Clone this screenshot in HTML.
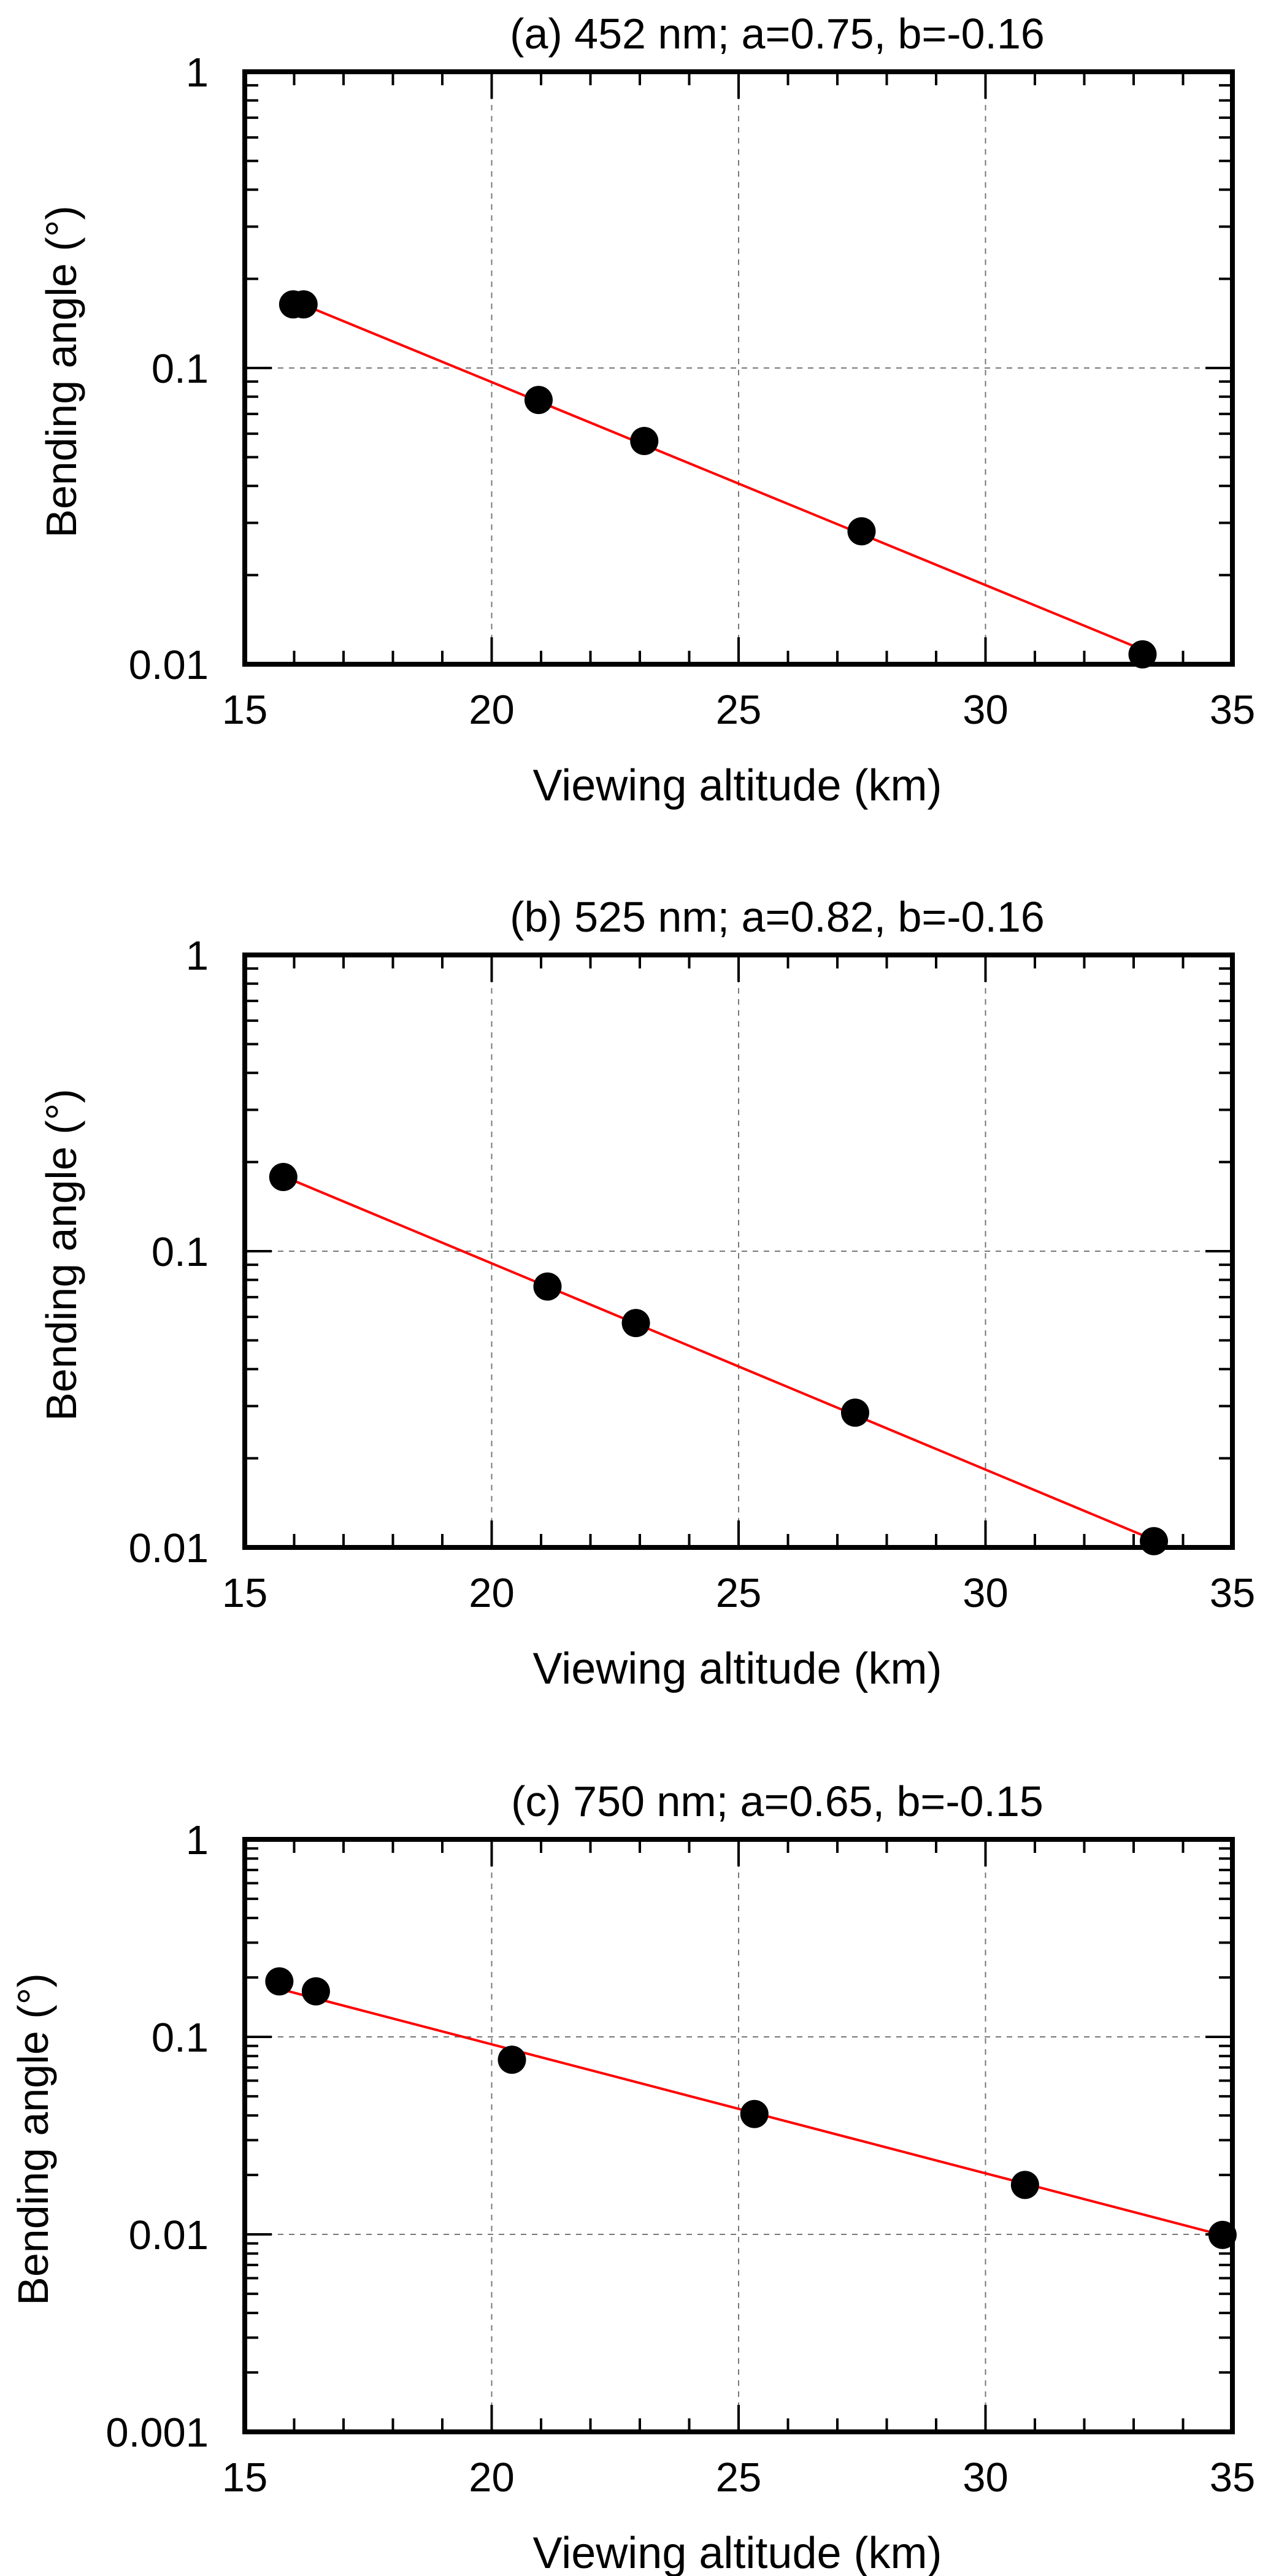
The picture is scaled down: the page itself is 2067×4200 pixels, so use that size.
<!DOCTYPE html>
<html><head><meta charset="utf-8"><style>
html,body{margin:0;padding:0;background:#fff}
svg{display:block}
text{font-family:"Liberation Sans",Arial,sans-serif;fill:#000}
</style></head>
<body>
<svg id="chart" width="2067" height="4200" viewBox="0 0 2067 4200" xmlns="http://www.w3.org/2000/svg"></svg>
<script>
// Panel (a) data
const altA = [15.98, 16.19, 20.95, 23.09, 27.49, 33.18];
const angA = [0.164, 0.164, 0.078, 0.0567, 0.0281, 0.0108];
const fitXA = [15.98, 33.18];
const fitYA = [0.169, 0.0112];
// Panel (b) data
const altB = [15.78, 21.13, 22.92, 27.36, 33.41];
const angB = [0.178, 0.076, 0.0572, 0.0285, 0.0105];
const fitXB = [15.78, 33.41];
const fitYB = [0.179, 0.0106];
// Panel (c) data
const altC = [15.70, 16.44, 20.41, 25.32, 30.80, 34.80];
const angC = [0.191, 0.170, 0.0766, 0.0407, 0.0178, 0.00994];
const fitXC = [15.70, 34.80];
const fitYC = [0.175, 0.0099];
// tick labels
const xTicks = [15, 20, 25, 30, 35];
const yTicksAB = ["0.01", "0.1", "1"];
const yTicksC = ["0.001", "0.01", "0.1", "1"];
const titles = ["(a) 452 nm; a=0.75, b=-0.16", "(b) 525 nm; a=0.82, b=-0.16", "(c) 750 nm; a=0.65, b=-0.15"];

const NS = "http://www.w3.org/2000/svg";
const svg = document.getElementById("chart");
function mk(tag, attrs, parent) {
  const e = document.createElementNS(NS, tag);
  for (const k in attrs) e.setAttribute(k, attrs[k]);
  (parent || svg).appendChild(e);
  return e;
}

function panel(idx, top, yTicks, xs, ys, fx, fy, ytitleX) {
  const L = 399, R = 2009, T = top, B = top + 966;
  const yMinExp = -(yTicks.length - 1), yMaxExp = 0;
  const xScale = v => L + (v - 15) / 20 * (R - L);
  const yScale = v => B - (Math.log10(v) - yMinExp) / (yMaxExp - yMinExp) * (B - T);
  const g = mk("g", {});
  
  

  // grid
  for (const v of [20, 25, 30]) {
    const ln = mk("line", {x1: xScale(v), x2: xScale(v), y1: T, y2: B, stroke: "#777", "stroke-width": 2, "stroke-dasharray": "9 9"}, g);
    
    
  }
  for (let e = yMinExp + 1; e < yMaxExp; e++) {
    const y = yScale(Math.pow(10, e));
    const ln = mk("line", {x1: L, x2: R, y1: y, y2: y, stroke: "#777", "stroke-width": 2, "stroke-dasharray": "9 9"}, g);
    
    
  }
  // x ticks
  for (let v = 16; v < 35; v++) {
    const len = v % 5 === 0 ? 44 : 22;
    const x = xScale(v);
    mk("line", {x1: x, x2: x, y1: B, y2: B - len, stroke: "#000", "stroke-width": 4}, g);
    mk("line", {x1: x, x2: x, y1: T, y2: T + len, stroke: "#000", "stroke-width": 4}, g);
  }
  // y ticks
  for (let e = yMinExp; e < yMaxExp; e++) {
    for (let m = 1; m <= 9; m++) {
      if (e === yMinExp && m === 1) continue;
      const y = yScale(m * Math.pow(10, e));
      const len = m === 1 ? 44 : 22;
      mk("line", {x1: L, x2: L + len, y1: y, y2: y, stroke: "#000", "stroke-width": 4}, g);
      mk("line", {x1: R, x2: R - len, y1: y, y2: y, stroke: "#000", "stroke-width": 4}, g);
    }
  }
  // frame
  const fr = mk("rect", {x: L, y: T, width: R - L, height: B - T, fill: "none", stroke: "#000", "stroke-width": 8}, g);
  
  

  // fit line
  const fl = mk("line", {x1: xScale(fx[0]), y1: yScale(fy[0]), x2: xScale(fx[1]), y2: yScale(fy[1]), stroke: "#ff0000", "stroke-width": 4}, g);
  
  
  // points
  for (let i = 0; i < xs.length; i++) {
    const c = mk("circle", {cx: xScale(xs[i]), cy: yScale(ys[i]), r: 23, fill: "#000"}, g);
    
    
  }
  // x tick labels
  for (const v of xTicks) {
    const t = mk("text", {x: xScale(v), y: B + 97, "font-size": 67, "text-anchor": "middle"}, g);
    t.textContent = v;
    
    
  }
  // y tick labels
  yTicks.forEach((lab, i) => {
    const y = yScale(Math.pow(10, yMinExp + i));
    const t = mk("text", {x: 340, y: y + 24, "font-size": 67, "text-anchor": "end"}, g);
    t.textContent = lab;
    
    
  });
  // title
  const tt = mk("text", {x: 1267, y: T - 38, "font-size": 70, "text-anchor": "middle"}, g);
  tt.textContent = titles[idx];
  
  
  // x axis title
  const xt = mk("text", {x: 1202, y: B + 222, "font-size": 72, "text-anchor": "middle"}, g);
  xt.textContent = "Viewing altitude (km)";
  
  
  // y axis title
  const cy = (T + B) / 2 + 6;
  const yt = mk("text", {x: ytitleX + 25, y: cy, "font-size": 70, "text-anchor": "middle", transform: "rotate(-90 " + (ytitleX + 25) + " " + cy + ")"}, g);
  yt.textContent = "Bending angle (°)";
  
  
}

panel(0, 117, yTicksAB, altA, angA, fitXA, fitYA, 99);
panel(1, 1557, yTicksAB, altB, angB, fitXB, fitYB, 99);
panel(2, 2999, yTicksC, altC, angC, fitXC, fitYC, 53);
</script>
</body></html>
